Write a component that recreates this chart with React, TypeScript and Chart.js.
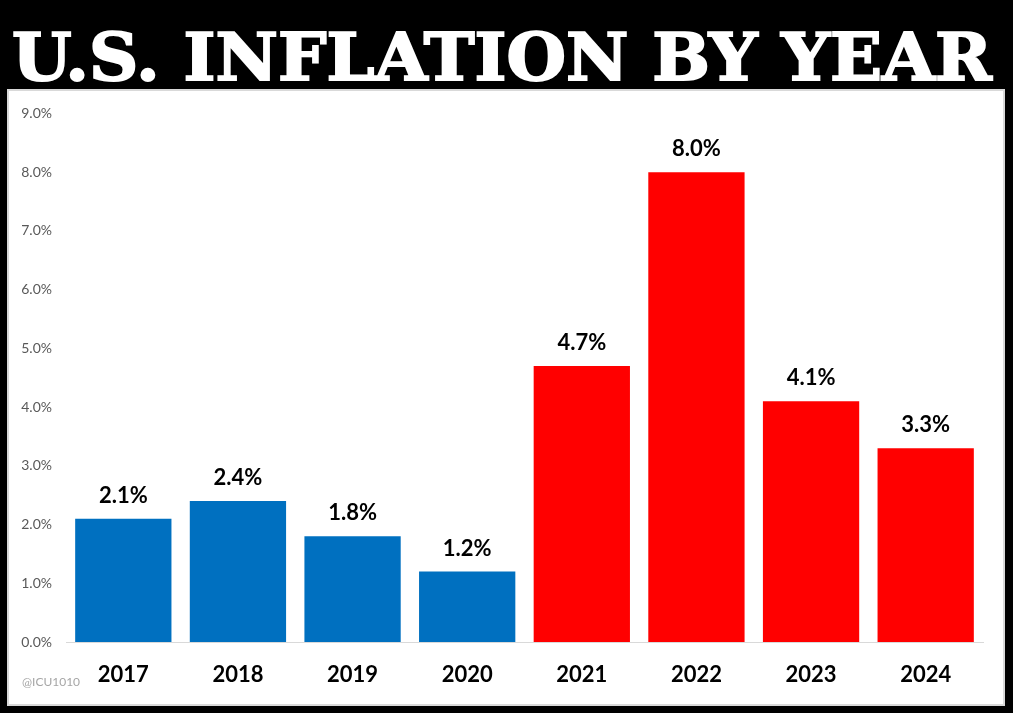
import React, { useEffect, useRef } from "react";
import { Chart, registerables } from "chart.js";

Chart.register(...registerables);

const categories = ["2017", "2018", "2019", "2020", "2021", "2022", "2023", "2024"];
const inflationValues = [2.1, 2.4, 1.8, 1.2, 4.7, 8.0, 4.1, 3.3];
const barColors = ["#0070C0", "#0070C0", "#0070C0", "#0070C0", "#FF0000", "#FF0000", "#FF0000", "#FF0000"];
const yMin = 0;
const yMax = 9;
const yStep = 1;
const titleText = "U.S. INFLATION BY YEAR";
const watermarkText = "@ICU1010";

const labelPlugin = {
  id: "valueLabels",
  afterDatasetsDraw(chart: any) {
    const ctx = chart.ctx;
    const meta = chart.getDatasetMeta(0);
    ctx.save();
    ctx.font = "bold 22px Lato";
    ctx.fillStyle = "#000000";
    ctx.textAlign = "center";
    ctx.textBaseline = "alphabetic";
    meta.data.forEach((bar: any, i: number) => {
      const v = chart.data.datasets[0].data[i] as number;
      ctx.fillText(v.toFixed(1) + "%", bar.x, bar.y - 16);
    });
    ctx.font = "12px Lato";
    ctx.fillStyle = "#a6a6a6";
    ctx.textAlign = "left";
    ctx.textBaseline = "middle";
    ctx.fillText(watermarkText, 13, 591);
    ctx.restore();
  },
};

export default function App() {
  const canvasRef = useRef<HTMLCanvasElement | null>(null);
  const titleRef = useRef<HTMLSpanElement | null>(null);

  useEffect(() => {
    const t = titleRef.current;
    if (t) {
      const w = t.offsetWidth;
      if (w > 0) t.style.transform = `scaleX(${980 / w})`;
    }
    const canvas = canvasRef.current;
    if (!canvas) return;
    const chart = new Chart(canvas, {
      type: "bar",
      data: {
        labels: categories,
        datasets: [
          {
            data: inflationValues,
            backgroundColor: barColors,
            barPercentage: 0.84,
            categoryPercentage: 1,
          },
        ],
      },
      options: {
        responsive: false,
        animation: false,
        layout: { padding: { top: 22, right: 20, left: 0, bottom: 0 } },
        plugins: {
          legend: { display: false },
          tooltip: { enabled: false },
          title: { display: false },
        },
        scales: {
          x: {
            grid: { display: false, drawTicks: false },
            border: { display: true, color: "#d9d9d9", width: 1 },
            ticks: {
              font: { family: "Lato", weight: "bold", size: 22 },
              color: "#000000",
              padding: 20,
              maxRotation: 0,
            },
            afterFit(scale: any) {
              scale.height = 62;
            },
          },
          y: {
            min: yMin,
            max: yMax,
            grid: { display: false, drawTicks: false },
            border: { display: false },
            ticks: {
              stepSize: yStep,
              font: { family: "Lato", size: 14 },
              color: "#595959",
              padding: 14,
              callback: (v: any) => Number(v).toFixed(1) + "%",
            },
            afterFit(scale: any) {
              scale.width = 57;
            },
          },
        },
      },
      plugins: [labelPlugin],
    });
    return () => chart.destroy();
  }, []);

  return (
    <div
      style={{
        position: "fixed",
        left: 0,
        top: 0,
        width: 1013,
        height: 713,
        background: "#000000",
        overflow: "hidden",
      }}
    >
      <div
        style={{
          position: "absolute",
          left: 12,
          top: 24,
          height: 66,
          lineHeight: "66px",
          whiteSpace: "nowrap",
        }}
      >
        <span
          ref={titleRef}
          style={{
            display: "inline-block",
            fontFamily: "'DejaVu Serif', serif",
            fontWeight: "bold",
            fontSize: 66,
            color: "#ffffff",
            WebkitTextStroke: "2px #ffffff",
            transformOrigin: "left center",
          }}
        >
          {titleText}
        </span>
      </div>
      <div
        style={{
          position: "absolute",
          left: 7,
          top: 89,
          width: 998,
          height: 617,
          boxSizing: "border-box",
          background: "#ffffff",
          border: "2px solid #d9d9d9",
        }}
      >
        <canvas ref={canvasRef} width={994} height={613} style={{ display: "block" }} />
      </div>
    </div>
  );
}
